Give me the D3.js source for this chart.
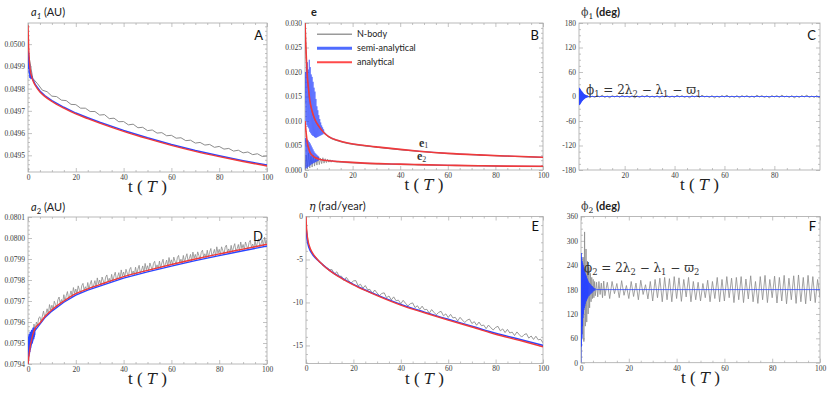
<!DOCTYPE html>
<html lang="en">
<head>
<meta charset="UTF-8">
<style>
  html, body { margin: 0; padding: 0; background: #fff; }
  svg { display: block; }
  .tick text { font-family: 'Liberation Serif', serif; font-size: 7.5px; fill: #3a3a3a; }
  .tick line { stroke: #9a9a9a; stroke-width: 0.6; }
  .frame { fill: none; stroke: #a9a9a9; stroke-width: 0.8; }
  .axis-title { font-family: Lato, 'Open Sans', sans-serif; font-size: 11px; fill: #222; }
  .panel-letter { font-family: Lato, 'Open Sans', sans-serif; font-size: 13px; fill: #111; }
  .t-label { font-family: 'Liberation Serif', serif; font-size: 17px; fill: #222; }
  .eq { font-family: 'DejaVu Serif', serif; font-size: 12px; fill: #333; }
  .legend { font-family: Lato, 'Open Sans', sans-serif; font-size: 9px; fill: #222; }
</style>
</head>
<body>
<svg id="chart" width="830" height="395"></svg>
<script src="https://cdn.jsdelivr.net/npm/d3@7"></script>
<script>
// ---------- time grids (t in units of T) ----------
const tSmooth = [0, 0.3, 0.6, 1, 1.5, 2, 3, 5, 7, 10, 15, 20, 25, 30, 40, 50, 60, 70, 80, 90, 100];
const tEven = [0,2,4,6,8,10,12,14,16,18,20,22,24,26,28,30,32,34,36,38,40,42,44,46,48,50,
  52,54,56,58,60,62,64,66,68,70,72,74,76,78,80,82,84,86,88,90,92,94,96,98,100];
const tInt = [0,1,2,3,4,5,6,7,8,9,10,11,12,13,14,15,16,17,18,19,20,21,22,23,24,25,26,27,28,29,30,
  31,32,33,34,35,36,37,38,39,40,41,42,43,44,45,46,47,48,49,50,51,52,53,54,55,56,57,58,59,60,
  61,62,63,64,65,66,67,68,69,70,71,72,73,74,75,76,77,78,79,80,81,82,83,84,85,86,87,88,89,90,
  91,92,93,94,95,96,97,98,99,100];
const tHalf = [0,0.5,1,1.5,2,2.5,3,3.5,4,4.5,5,5.5,6,6.5,7,7.5,8,8.5,9,9.5,
  10,10.5,11,11.5,12,12.5,13,13.5,14,14.5,15,15.5,16,16.5,17,17.5,18,18.5,19,19.5,
  20,20.5,21,21.5,22,22.5,23,23.5,24,24.5,25,25.5,26,26.5,27,27.5,28,28.5,29,29.5,
  30,30.5,31,31.5,32,32.5,33,33.5,34,34.5,35,35.5,36,36.5,37,37.5,38,38.5,39,39.5,
  40,40.5,41,41.5,42,42.5,43,43.5,44,44.5,45,45.5,46,46.5,47,47.5,48,48.5,49,49.5,
  50,50.5,51,51.5,52,52.5,53,53.5,54,54.5,55,55.5,56,56.5,57,57.5,58,58.5,59,59.5,
  60,60.5,61,61.5,62,62.5,63,63.5,64,64.5,65,65.5,66,66.5,67,67.5,68,68.5,69,69.5,
  70,70.5,71,71.5,72,72.5,73,73.5,74,74.5,75,75.5,76,76.5,77,77.5,78,78.5,79,79.5,
  80,80.5,81,81.5,82,82.5,83,83.5,84,84.5,85,85.5,86,86.5,87,87.5,88,88.5,89,89.5,
  90,90.5,91,91.5,92,92.5,93,93.5,94,94.5,95,95.5,96,96.5,97,97.5,98,98.5,99,99.5,100];

// ---------- A : a1 (AU) ----------
const a1Analytical = [0.050085,0.04998,0.04992,0.04988,0.049855,0.049838,0.049815,0.049785,0.049765,0.049742,
  0.049712,0.049686,0.049665,0.049645,0.049608,0.049575,0.049545,0.049518,0.049494,0.049472,0.049452];
const tA1Semi = [0,0.1,0.2,0.3,0.4,0.5,0.6,0.8,1,1.3,1.6,2,3,5,7,10,15,20,25,30,40,50,60,70,80,90,100];
const a1Semi = [0.04997,0.04991,0.04996,0.04989,0.04994,0.04987,0.04991,0.04985,0.04988,0.049845,0.049855,
  0.049842,0.049819,0.049789,0.049769,0.049746,0.049716,0.04969,0.049669,0.049649,0.049612,0.049579,
  0.049549,0.049522,0.049498,0.049476,0.049456];
const a1NBody = [0.04997,0.049846,0.049822,0.049793,0.049786,0.049766,0.049764,0.049748,0.049746,0.049729,
  0.049728,0.049712,0.049712,0.049697,0.049697,0.049681,0.049683,0.049665,0.049667,0.049651,0.049652,
  0.049637,0.04964,0.049624,0.049626,0.049611,0.049614,0.0496,0.049602,0.049588,0.04959,0.049577,
  0.049579,0.049566,0.049568,0.049555,0.049558,0.049546,0.049549,0.049536,0.04954,0.049528,0.049531,
  0.049519,0.049523,0.049511,0.049515,0.049503,0.049507,0.049495,0.049497];

// ---------- B : e1, e2 ----------
const tE = [0,0.3,0.6,1,1.5,2,3,4,6,8,10,14,18,25,31,40,48,60,73,85,100];
const e1Analytical = [0.0300,0.0260,0.0225,0.0190,0.0165,0.0143,0.0120,0.0105,0.0088,0.0076,0.0068,
  0.0060,0.0055,0.0050,0.00466,0.0042,0.00384,0.0034,0.00308,0.00285,0.0026];
const e2Analytical = [0.0100,0.0085,0.0070,0.0055,0.0045,0.0037,0.0030,0.0026,0.0022,0.0020,0.0019,
  0.00175,0.0016,0.0014,0.0013,0.0012,0.0011,0.00098,0.00088,0.0008,0.00075];
const e1NBody = [0.0300,0.0255,0.0222,0.0188,0.0163,0.0142,0.0119,0.0104,0.0087,0.0075,0.0067,
  0.0059,0.0054,0.0049,0.00458,0.00412,0.00378,0.00335,0.00303,0.0028,0.00256];
const tE1Semi = [0,0.2,0.4,0.6,0.8,1,1.2,1.4,1.6,1.8,2,2.2,2.4,2.6,2.8,3,3.2,3.4,3.6,3.8,4,
  4.2,4.4,4.6,4.8,5,5.2,5.4,5.6,5.8,6,6.2,6.4,6.6,6.8,7,7.2,7.4,7.6,7.8,8,
  10,14,18,25,31,40,48,60,73,85,100];
const e1Semi = [0.0135,0.0200,0.0100,0.0215,0.0092,0.0220,0.0088,0.0205,0.0085,0.0225,0.0078,
  0.0210,0.0075,0.0195,0.0072,0.0190,0.0070,0.0180,0.0069,0.0168,0.0067,0.0160,0.0066,0.0145,
  0.0066,0.0130,0.0067,0.0122,0.0068,0.0112,0.0069,0.0104,0.0070,0.0097,0.0071,0.0091,0.0072,
  0.0087,0.0073,0.0083,0.0078,
  0.0068,0.0060,0.0055,0.0050,0.00466,0.0042,0.00384,0.0034,0.00308,0.00285,0.0026];
const tE2Semi = [0,0.2,0.4,0.6,0.8,1,1.2,1.4,1.6,1.8,2,2.2,2.4,2.6,2.8,3,3.2,3.4,3.6,3.8,4,
  4.2,4.4,4.6,4.8,5,5.2,5.4,5.6,5.8,6,8,10,14,18,25,31,40,48,60,73,85,100];
const e2Semi = [0.0050,0.0065,0.0003,0.0066,0.0004,0.0062,0.0006,0.0060,0.0007,0.0057,0.0009,
  0.0054,0.0010,0.0050,0.0012,0.0046,0.0013,0.0042,0.0014,0.0038,0.0015,0.0035,0.0016,0.0033,
  0.0017,0.0031,0.0018,0.0029,0.0019,0.0027,0.0022,
  0.0020,0.0019,0.00175,0.0016,0.0014,0.0013,0.0012,0.0011,0.00098,0.00088,0.0008,0.00075];
const tE2NBody = [0,0.5,1,1.5,2,2.5,3,3.5,4,4.5,5,5.5,6,6.5,7,7.5,8,8.5,9,9.5,10,10.5,11,11.5,12,
  14,18,25,31,40,48,60,73,85,100];
const e2NBody = [0.0000,0.0030,0.0002,0.0035,0.0004,0.0028,0.0006,0.0030,0.0008,0.0026,0.0010,
  0.0027,0.0011,0.0024,0.0013,0.0025,0.0014,0.0023,0.0015,0.0022,0.0016,0.0021,0.0016,0.0020,0.0017,
  0.0016,0.00148,0.0013,0.0012,0.0011,0.0010,0.0009,0.0008,0.00072,0.00068];

// ---------- C : phi1 (deg) ----------
const tPhi1Semi = [1.7,1.8,1.9,2.0,2.1,2.2,2.3,2.4,2.5,2.6,2.7,2.8,2.9,3.0,3.1,3.2,3.3,3.4,3.5,3.6,
  3.7,3.8,3.9,4.0,4.1,4.2,4.3,4.4,4.5,4.6,4.7,4.8,4.9,5.0,5.1,5.2,5.3,5.4,5.5,5.6,5.7,5.8,5.9,6.0,10,100];
const phi1Semi = [22,-21,20,-20,19,-18,17,-16,15,-14,13,-12,12,-11,10,-9,9,-8,7,-7,
  6,-6,5,-5,4,-4,4,-3,3,-3,2,-2,2,-2,1.5,-1.5,1,-1,1,-1,0.5,-0.5,0.3,0,0,0];
const phi1NBody = [0,2,-2,3,-1,2,-3,1,-2,2,-1,3,-2,1,-3,2,-1,2,-2,3,-1,1,-2,2,-3,1,-2,2,-1,3,
  -2,1,-2,2,-3,2,-1,2,-2,1,-2,3,-1,2,-2,1,-3,2,-1,2,-2,3,-1,1,-2,2,-3,1,-2,2,-1,3,-2,1,-2,2,
  -3,2,-1,2,-2,1,-2,3,-1,2,-2,1,-3,2,-1,2,-2,3,-1,1,-2,2,-3,1,-2,2,-1,3,-2,1,-2,2,-3,2,0];

// ---------- D : a2 (AU) ----------
const a2Analytical = [0.07940,0.07943,0.079455,0.07949,0.079515,0.07954,0.07957,0.079595,0.079625,0.079658,
  0.0797,0.079735,0.079758,0.079778,0.079816,0.079846,0.079874,0.0799,0.079924,0.079947,0.07997];
const tA2Semi = [0,0.1,0.2,0.3,0.4,0.5,0.6,0.7,0.8,0.9,1,1.1,1.2,1.3,1.4,1.5,1.6,1.7,1.8,1.9,2,
  2.1,2.2,2.3,2.4,2.5,2.6,2.7,2.8,2.9,3,5,7,10,15,20,25,30,40,50,60,70,80,90,100];
const a2Semi = [0.07940,0.07952,0.07942,0.07953,0.07944,0.07954,0.07945,0.07954,0.07946,0.07955,0.07947,
  0.07955,0.07948,0.07955,0.07949,0.07956,0.0795,0.07956,0.0795,0.07956,0.07951,0.07957,0.07952,
  0.07957,0.07952,0.07957,0.07953,0.07957,0.07954,0.07957,0.07956,
  0.07959,0.07962,0.079652,0.079694,0.079728,0.079752,0.079771,0.079809,0.079839,0.079866,
  0.079892,0.079916,0.079939,0.079962];
const a2NBody = [0.07945,0.07952,0.0795,0.079545,0.07953,0.07959,0.07956,0.0796,0.079585,0.07962,
  0.079625,0.079598,0.079628,0.079652,0.079621,0.079639,0.079663,0.079636,0.079683,0.079657,
  0.07968,0.07966,0.079699,0.079683,0.079669,0.079706,0.079719,0.079688,0.079707,0.079691,
  0.07973,0.079699,0.079725,0.079745,0.07971,0.079726,0.079748,0.079719,0.079764,0.079736,
  0.079757,0.079735,0.079772,0.079754,0.079738,0.079773,0.079784,0.079751,0.079768,0.079751,
  0.079788,0.079755,0.07978,0.079798,0.079762,0.079776,0.079797,0.079766,0.07981,0.07978,
  0.0798,0.079777,0.079814,0.079796,0.07978,0.079814,0.079824,0.079791,0.079808,0.07979,
  0.079827,0.079794,0.079819,0.079837,0.079801,0.079815,0.079835,0.079804,0.079848,0.079818,
  0.079838,0.079815,0.079851,0.079833,0.079816,0.07985,0.07986,0.079827,0.079843,0.079825,
  0.079861,0.079828,0.079852,0.07987,0.079833,0.079847,0.079867,0.079836,0.079879,0.079849,
  0.079868,0.079845,0.079881,0.079863,0.079846,0.079879,0.079889,0.079856,0.079872,0.079854,
  0.07989,0.079857,0.079881,0.079899,0.079862,0.079875,0.079895,0.079864,0.079907,0.079877,
  0.079896,0.079873,0.079909,0.07989,0.079873,0.079907,0.079917,0.079883,0.079899,0.079881,
  0.079917,0.079884,0.079908,0.079925,0.079888,0.079902,0.079922,0.07989,0.079933,0.079903,
  0.079922,0.079898,0.079934,0.079916,0.079899,0.079932,0.079942,0.079909,0.079925,0.079906,
  0.079942,0.079908,0.079932,0.07995,0.079913,0.079926,0.079946,0.079915,0.079958,0.079927,
  0.079946,0.079922,0.079958,0.07994,0.079923,0.079956,0.079966,0.079932,0.079948,0.079929,
  0.079965,0.079932,0.079956,0.079973,0.079936,0.079949,0.079969,0.079938,0.079981,0.07995,
  0.079969,0.079945,0.079981,0.079963,0.079946,0.079979,0.079989,0.079955,0.079971,0.079952,
  0.079988,0.079955,0.079979,0.079996,0.079959,0.079972,0.079992,0.079961,0.080004,0.079973,
  0.079992];

// ---------- E : eta (rad/year) ----------
const etaAnalytical = [0,-1.6,-2.4,-3.0,-3.5,-3.85,-4.35,-5.05,-5.6,-6.3,-7.2,-7.95,-8.6,-9.2,
  -10.3,-11.2,-12.05,-12.85,-13.7,-14.4,-15.15];
const etaSemi = [-1.0,-2.2,-2.9,-3.4,-3.8,-4.1,-4.5,-5.1,-5.6,-6.27,-7.15,-7.9,-8.55,-9.13,
  -10.22,-11.12,-11.96,-12.76,-13.58,-14.28,-15.0];
const etaNBody = [-1.0,-3.2,-4.0,-4.4,-4.7,-5.0,-5.3,-5.55,-5.8,-6.0,-6.2,
  -6.18,-6.7,-6.43,-6.95,-6.95,-7.45,-7.08,-7.45,-7.75,-7.5,
  -7.45,-8.05,-7.88,-8.35,-8.03,-8.5,-8.48,-8.95,-8.55,-8.9,
  -9.2,-8.95,-8.88,-9.45,-9.25,-9.7,-9.35,-9.8,-9.73,-10.15,
  -9.75,-10.1,-10.4,-10.15,-10.05,-10.6,-10.38,-10.8,-10.43,-10.85,
  -10.8,-11.25,-10.83,-11.15,-11.43,-11.15,-11.03,-11.55,-11.33,-11.75,
  -11.38,-11.8,-11.73,-12.15,-11.73,-12.05,-12.33,-12.05,-11.93,-12.45,
  -12.23,-12.65,-12.28,-12.7,-12.63,-13.05,-12.63,-12.95,-13.2,-12.9,
  -12.78,-13.3,-13.08,-13.5,-13.13,-13.55,-13.45,-13.85,-13.43,-13.75,
  -14.03,-13.75,-13.63,-14.15,-13.9,-14.3,-13.93,-14.35,-14.28,-14.7];

// ---------- F : phi2 (deg) ----------
const tPhi2Semi = [0,0.1,0.2,0.3,0.4,0.5,0.6,0.7,0.8,0.9,1,1.1,1.2,1.3,1.4,1.5,1.6,1.7,1.8,1.9,2,
  2.1,2.2,2.3,2.4,2.5,2.6,2.7,2.8,2.9,3,3.2,3.4,3.6,3.8,4,4.2,4.4,4.6,4.8,5,5.2,5.4,5.6,5.8,6,6.5,100];
const phi2Semi = [0,270,40,260,60,250,90,245,110,240,120,235,130,230,135,225,140,222,145,218,150,
  215,152,212,155,208,158,205,160,202,163,199,165,196,168,193,170,190,172,188,175,185,177,183,
  178,182,180,180];
const tPhi2NBody = [0,0.3,0.6,0.9,1.2,1.5,1.8,2.1,2.4,2.7,3,3.3,3.6,3.9,4.2,4.5,4.8,5.1,5.4,5.7,
  6,6.5,7,7.5,8,8.5,9,9.5,10,11,12,13,14,15,16,17,18,19,20,21,22,23,24,25,26,27,28,29,30,
  31,32,33,34,35,36,37,38,39,40,41,42,43,44,45,46,47,48,49,50,51,52,53,54,55,56,57,58,59,60,
  61,62,63,64,65,66,67,68,69,70,71,72,73,74,75,76,77,78,79,80,81,82,83,84,85,86,87,88,89,90,
  91,92,93,94,95,96,97,98,99,100];
const phi2NBody = [10,230,70,260,52,322,90,280,100,250,120,235,135,220,150,210,158,205,160,200,
  165,198,162,200,168,196,160,201,165,
  198,158,200,170,195,160,202,166,190,158, 200,163,196,155,203,168,192,157,200,152,
  205,160,208,150,210,155,207,150,212,158, 209,151,205,162,210,150,200,155,198,152,
  195,160,203,150,200,158,210,150,205,152, 212,160,208,148,210,155,212,148,206,157,
  214,150,200,146,212,155,215,148,205,160, 213,147,210,152,215,145,208,155,214,146,
  216,150,210,145,215,152,212,148,205,160];

// ---------- tick labels ----------
const xTicksFull = [0, 20, 40, 60, 80, 100];
const xTicksC = [20, 40, 60, 80];
const yTicksA = [0.0495, 0.0496, 0.0497, 0.0498, 0.0499, 0.0500];
const yTicksB = [0, 0.005, 0.010, 0.015, 0.020, 0.025, 0.030];
const yTicksC = [-180, -120, -60, 0, 60, 120, 180];
const yTicksD = [0.0794, 0.0795, 0.0796, 0.0797, 0.0798, 0.0799, 0.0800, 0.0801];
const yTicksE = [0, -5, -10, -15];
const yTicksF = [0, 60, 120, 180, 240, 300, 360];

const colors = { nbody: '#8c8c8c', semi: '#2b45ff', analytical: '#f03a3a' };

const svg = d3.select('#chart');
const defs = svg.append('defs');

function minorTicks(domain, step, majors) {
    const lo = Math.min(domain[0], domain[1]), hi = Math.max(domain[0], domain[1]);
    const out = [];
    for (let v = Math.ceil(lo / step - 1e-9) * step; v <= hi + step * 1e-6; v += step) {
        if (!majors.some(m => Math.abs(m - v) < step * 1e-3)) out.push(v);
    }
    return out;
}

function drawPanel(p) {
    const x = d3.scaleLinear().domain(p.xDomain).range([p.left, p.right]);
    const y = d3.scaleLinear().domain(p.yDomain).range([p.bottom, p.top]);
    const g = svg.append('g').attr('id', 'panel-' + p.id);

    defs.append('clipPath').attr('id', 'clip-' + p.id).append('rect')
        .attr('x', p.left).attr('y', p.top)
        .attr('width', p.right - p.left).attr('height', p.bottom - p.top);

    const xMajor = p.xTicks;
    const xMin = minorTicks(p.xDomain, 5, xMajor);
    const yMin = minorTicks(p.yDomain, p.yMinorStep, p.yTicks);
    const none = () => '';

    // frame ticks, inward, on all four sides
    const axes = [
        [d3.axisLeft(y).tickValues(p.yTicks).tickFormat(p.yFormat).tickPadding(3), `translate(${p.left},0)`],
        [d3.axisLeft(y).tickValues(yMin).tickFormat(none), `translate(${p.left},0)`, true],
        [d3.axisRight(y).tickValues(p.yTicks).tickFormat(none), `translate(${p.right},0)`],
        [d3.axisRight(y).tickValues(yMin).tickFormat(none), `translate(${p.right},0)`, true],
        [d3.axisBottom(x).tickValues(xMajor).tickPadding(2.5), `translate(0,${p.bottom})`],
        [d3.axisBottom(x).tickValues(xMin).tickFormat(none), `translate(0,${p.bottom})`, true],
        [d3.axisTop(x).tickValues(xMajor).tickFormat(none), `translate(0,${p.top})`],
        [d3.axisTop(x).tickValues(xMin).tickFormat(none), `translate(0,${p.top})`, true]
    ];
    axes.forEach(([ax, tr, minor]) => {
        g.append('g').attr('transform', tr)
            .call(ax.tickSizeInner(minor ? -2 : -4).tickSizeOuter(0))
            .call(s => s.select('.domain').remove())
            .call(s => s.selectAll('text').attr('font-family', null).attr('font-size', null));
    });

    g.append('rect').attr('class', 'frame')
        .attr('x', p.left).attr('y', p.top)
        .attr('width', p.right - p.left).attr('height', p.bottom - p.top);

    const plot = g.append('g').attr('clip-path', `url(#clip-${p.id})`);
    p.series.forEach(s => {
        const line = d3.line().x(d => x(d[0])).y(d => y(d[1]))
            .curve(s.smooth ? d3.curveMonotoneX : d3.curveLinear);
        plot.append('path')
            .datum(d3.zip(s.t, s.v))
            .attr('d', line)
            .attr('fill', 'none')
            .attr('stroke', colors[s.kind])
            .attr('stroke-width', s.width || 1)
            .attr('stroke-opacity', s.opacity || 1)
            .attr('stroke-linejoin', 'round');
    });

    // t (T) axis label
    const tl = g.append('text').attr('class', 't-label')
        .attr('x', (p.left + p.right) / 2).attr('y', p.bottom + 20).attr('text-anchor', 'middle');
    tl.append('tspan').text('t ( ');
    tl.append('tspan').attr('font-style', 'italic').attr('font-family', "'DejaVu Serif', serif").attr('font-size', 15).text('T');
    tl.append('tspan').text(' )');

    // panel letter
    g.append('text').attr('class', 'panel-letter')
        .attr('x', p.right - 4).attr('y', p.letterY).attr('text-anchor', 'end').text(p.id);
    return { x, y, g };
}

// helper: text with subscript runs
function richText(sel, parts) {
    parts.forEach(([txt, opt]) => {
        const ts = sel.append('tspan').text(txt);
        if (opt && opt.sub) ts.attr('dy', opt.dy || 3).attr('font-size', opt.size || '0.7em');
        if (opt && opt.back) ts.attr('dy', -(opt.back));
        if (opt && opt.style) Object.entries(opt.style).forEach(([k, v]) => ts.attr(k, v));
    });
}

const fmt4 = d => d3.format('.4f')(d);
const fmt3 = d => d3.format('.3f')(d);
const plain = d => String(d);

const panels = [
    { id: 'A', left: 28, right: 267, top: 23, bottom: 172, letterY: 39.5,
      xDomain: [0, 100], yDomain: [0.049425, 0.050095], xTicks: xTicksFull,
      yTicks: yTicksA, yFormat: fmt4, yMinorStep: 0.00002,
      series: [
        { kind: 'nbody', t: tEven, v: a1NBody, width: 1 },
        { kind: 'semi', t: tA1Semi, v: a1Semi, width: 1.5 },
        { kind: 'analytical', t: tSmooth, v: a1Analytical, width: 1.4, smooth: true }
      ] },
    { id: 'B', left: 305, right: 543, top: 23, bottom: 170, letterY: 39.5,
      xDomain: [0, 100], yDomain: [0, 0.030], xTicks: xTicksFull,
      yTicks: yTicksB, yFormat: fmt3, yMinorStep: 0.001,
      series: [
        { kind: 'nbody', t: tE, v: e1NBody, width: 1, smooth: true },
        { kind: 'nbody', t: tE2NBody, v: e2NBody, width: 0.8 },
        { kind: 'semi', t: tE1Semi, v: e1Semi, width: 0.6, opacity: 0.9 },
        { kind: 'semi', t: tE2Semi, v: e2Semi, width: 0.6, opacity: 0.9 },
        { kind: 'analytical', t: tE, v: e1Analytical, width: 1.6, smooth: true },
        { kind: 'analytical', t: tE, v: e2Analytical, width: 1.6, smooth: true }
      ] },
    { id: 'C', left: 579, right: 820, top: 23, bottom: 170, letterY: 39.5,
      xDomain: [1.7, 98.3], yDomain: [-180, 180], xTicks: xTicksC,
      yTicks: yTicksC, yFormat: plain, yMinorStep: 15,
      series: [
        { kind: 'nbody', t: tInt, v: phi1NBody, width: 1 },
        { kind: 'semi', t: tPhi1Semi, v: phi1Semi, width: 0.8 }
      ] },
    { id: 'D', left: 28, right: 267, top: 217, bottom: 364, letterY: 240.5,
      xDomain: [0, 100], yDomain: [0.0794, 0.0801], xTicks: xTicksFull,
      yTicks: yTicksD, yFormat: fmt4, yMinorStep: 0.00002,
      series: [
        { kind: 'nbody', t: tHalf, v: a2NBody, width: 0.8 },
        { kind: 'semi', t: tA2Semi, v: a2Semi, width: 1.4 },
        { kind: 'analytical', t: tSmooth, v: a2Analytical, width: 1.4, smooth: true }
      ] },
    { id: 'E', left: 306, right: 543, top: 216.5, bottom: 363.5, letterY: 231,
      xDomain: [0, 100], yDomain: [-17.1, 0], xTicks: xTicksFull,
      yTicks: yTicksE, yFormat: plain, yMinorStep: 1,
      series: [
        { kind: 'nbody', t: tInt, v: etaNBody, width: 0.9 },
        { kind: 'semi', t: tSmooth, v: etaSemi, width: 1.5, smooth: true },
        { kind: 'analytical', t: tSmooth, v: etaAnalytical, width: 1.4, smooth: true }
      ] },
    { id: 'F', left: 581, right: 820, top: 216.5, bottom: 362.7, letterY: 231,
      xDomain: [0, 100], yDomain: [0, 360], xTicks: xTicksFull,
      yTicks: yTicksF, yFormat: plain, yMinorStep: 15,
      series: [
        { kind: 'nbody', t: tPhi2NBody, v: phi2NBody, width: 0.8 },
        { kind: 'semi', t: tPhi2Semi, v: phi2Semi, width: 0.8 }
      ] }
];

const drawn = {};
panels.forEach(p => { drawn[p.id] = drawPanel(p); });

// ---------- axis titles ----------
const italicA = { 'font-style': 'italic' };
richText(svg.append('text').attr('class', 'axis-title').attr('x', 31).attr('y', 16),
    [['a', { style: italicA }], ['1', { sub: true, dy: 2.5, style: italicA }], [' (AU)', { back: 2.5 }]]);
richText(svg.append('text').attr('class', 'axis-title').attr('x', 31).attr('y', 211),
    [['a', { style: italicA }], ['2', { sub: true, dy: 2.5 }], [' (AU)', { back: 2.5 }]]);
svg.append('text').attr('class', 'axis-title').attr('x', 311).attr('y', 16)
    .attr('font-weight', 'bold').attr('font-size', 12).text('e');
richText(svg.append('text').attr('class', 'axis-title').attr('x', 581).attr('y', 16),
    [['ϕ', { style: { 'font-family': "'DejaVu Serif', serif", 'font-size': 11, fill: '#444' } }],
     ['1', { sub: true, dy: 3, style: { 'font-family': "'DejaVu Serif', serif" } }],
     ['   (deg)', { back: 3, style: { 'font-weight': 'bold' } }]]);
richText(svg.append('text').attr('class', 'axis-title').attr('x', 581).attr('y', 210),
    [['ϕ', { style: { 'font-family': "'DejaVu Serif', serif", 'font-size': 11, fill: '#444' } }],
     ['2', { sub: true, dy: 3, style: { 'font-family': "'DejaVu Serif', serif" } }],
     ['   (deg)', { back: 3, style: { 'font-weight': 'bold' } }]]);
richText(svg.append('text').attr('class', 'axis-title').attr('x', 309).attr('y', 210),
    [['η', { style: { 'font-family': "'DejaVu Serif', serif", 'font-style': 'italic' } }],
     ['  (rad/year)', {}]]);

// ---------- resonance angle equations ----------
function equation(x, y, k) {
    richText(svg.append('text').attr('class', 'eq').attr('x', x).attr('y', y), [
        ['ϕ'], [k, { sub: true, dy: 3 }], [' = 2λ', { back: 3 }], ['2', { sub: true, dy: 3 }],
        [' − λ', { back: 3 }], ['1', { sub: true, dy: 3 }], [' − ϖ', { back: 3 }], [k, { sub: true, dy: 3 }]
    ]);
}
equation(586, 93.5, '1');
equation(584, 271.5, '2');

// ---------- e1 / e2 labels ----------
const eStyle = { 'font-family': "'Liberation Serif', serif", 'font-weight': 'bold', 'font-size': 12, fill: '#333' };
const subStyle = { 'font-family': "'Liberation Serif', serif", fill: '#333' };
richText(svg.append('text').attr('x', 419).attr('y', 146.5),
    [['e', { style: eStyle }], ['1', { sub: true, dy: 1.5, size: 8, style: subStyle }]]);
richText(svg.append('text').attr('x', 417).attr('y', 159.5),
    [['e', { style: eStyle }], ['2', { sub: true, dy: 2, size: 8, style: subStyle }]]);

// ---------- legend (panel B) ----------
const legendItems = [
    { label: 'N-body', color: '#9a9a9a', width: 1.6, y: 34.3 },
    { label: 'semi-analytical', color: '#4f6cff', width: 3, y: 48.3 },
    { label: 'analytical', color: '#ff4a4a', width: 2, y: 62.3 }
];
const lg = svg.append('g').attr('class', 'legend-group');
legendItems.forEach(it => {
    lg.append('line').attr('x1', 317).attr('x2', 352).attr('y1', it.y).attr('y2', it.y)
        .attr('stroke', it.color).attr('stroke-width', it.width);
    lg.append('text').attr('class', 'legend').attr('x', 357).attr('y', it.y + 3).text(it.label);
});
</script>
</body>
</html>
